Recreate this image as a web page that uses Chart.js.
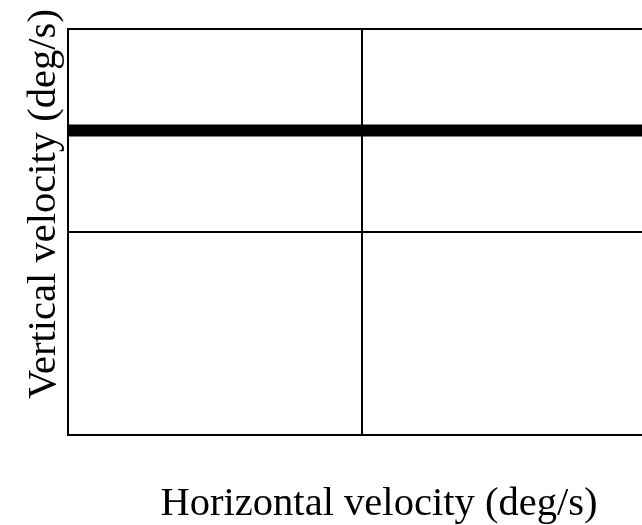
<!DOCTYPE html>
<html>
<head>
<meta charset="utf-8">
<script src="https://cdn.jsdelivr.net/npm/chart.js@4.4.0/dist/chart.umd.min.js"></script>
<style>
  html, body { margin: 0; padding: 0; background: #fff; overflow: hidden; }
  #wrap { width: 700px; height: 525px; }
</style>
</head>
<body>
<div id="wrap"><canvas id="chart1" width="700" height="525"></canvas></div>
<script>
var xRange = [-100, 100];
var yRange = [-100, 100];
var lineX = [-100, 100];
var lineY = [50, 50];
var xTitle = "Horizontal velocity (deg/s)";
var yTitle = "Vertical velocity (deg/s)";

var points = lineX.map(function (x, i) { return { x: x, y: lineY[i] }; });

// axis titles, placed off the chart area
var axisTitles = {
    id: 'axisTitles',
    afterDraw: function (chart) {
        var ctx = chart.ctx;
        var area = chart.chartArea;
        ctx.save();
        ctx.fillStyle = '#000';
        ctx.font = '40.6px "Liberation Serif", "Times New Roman", serif';
        ctx.textAlign = 'center';
        ctx.textBaseline = 'alphabetic';
        ctx.fillText(xTitle, area.left + 311, area.bottom + 80);
        ctx.translate(area.left - 13, area.top + 175);
        ctx.rotate(-Math.PI / 2);
        ctx.fillText(yTitle, 0, 0);
        ctx.restore();
    }
};

window.onload = function () {
    var ctx1 = document.getElementById('chart1').getContext('2d');

    window.theChart1 = new Chart(ctx1, {
        type: 'scatter',
        data: {
            datasets: [{
                data: points,
                showLine: true,
                borderColor: '#000',
                borderWidth: 12,
                borderCapStyle: 'butt',
                pointRadius: 0,
                pointHoverRadius: 0
            }]
        },
        options: {
            responsive: false,
            animation: false,
            events: [],
            layout: {
                padding: { left: 68, top: 29, bottom: 90, right: 44 }
            },
            plugins: {
                legend: { display: false },
                tooltip: { enabled: false }
            },
            scales: {
                x: {
                    min: xRange[0],
                    max: xRange[1],
                    ticks: { display: false, stepSize: 100 },
                    grid: { color: '#000', lineWidth: 2, drawTicks: false },
                    border: { display: true, color: '#000', width: 2 }
                },
                y: {
                    min: yRange[0],
                    max: yRange[1],
                    ticks: { display: false, stepSize: 100 },
                    grid: { color: '#000', lineWidth: 2, drawTicks: false },
                    border: { display: true, color: '#000', width: 2 }
                }
            }
        },
        plugins: [axisTitles]
    });
};
</script>
</body>
</html>
